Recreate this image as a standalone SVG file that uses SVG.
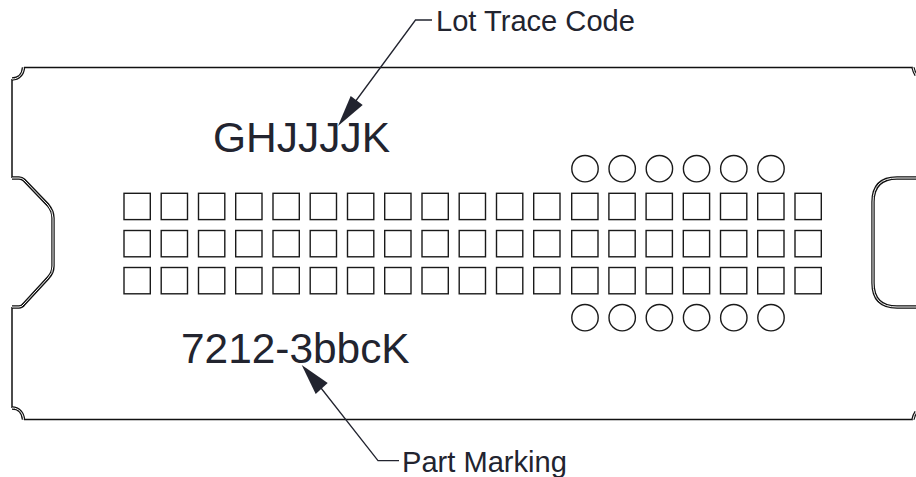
<svg xmlns="http://www.w3.org/2000/svg" width="916" height="477" viewBox="0 0 916 477">
<style>
.o{fill:none;stroke:#111;stroke-width:1.5}
.d{fill:none;stroke:#111;stroke-width:3.4}
.w{fill:none;stroke:#fff;stroke-width:1}
.s{fill:#fff;stroke:#1a1a1a;stroke-width:1.4}
.t{font-family:"Liberation Sans",Arial,sans-serif;fill:#22242f}
.l{fill:none;stroke:#22242f;stroke-width:1.3}
</style>
<defs>
<rect id="sq" width="26.3" height="26.3" class="s"/>
<circle id="ci" r="13.2" class="s"/>
<path id="edge" d="M12 79C19 79 23 74 23.500 67.500M12 178H19Q22 178 24 180L48 205Q53 211 53 218V266Q53 273 48 278L24 304Q22 307 19 307H12M12 408C19 408 23 413 23.500 419.500M916 75Q914 72 913 67.500M916 412Q914 415 913 419.500M916 178H897Q873 178 873 202V283Q873 307 897 307H916"/>
</defs>
<rect width="916" height="477" fill="#fff"/>
<g id="package">
<path class="o" d="M24 67.500H913M12 79V178M12 307V408M24 419.500H913"/>
<use href="#edge" class="d"/>
<use href="#edge" class="w"/>
</g>
<g id="pads">
<g id="row1">
<use href="#sq" x="124" y="193.300"/><use href="#sq" x="161.200" y="193.300"/><use href="#sq" x="198.500" y="193.300"/><use href="#sq" x="235.700" y="193.300"/><use href="#sq" x="273" y="193.300"/><use href="#sq" x="310.200" y="193.300"/><use href="#sq" x="347.500" y="193.300"/><use href="#sq" x="384.700" y="193.300"/><use href="#sq" x="422" y="193.300"/><use href="#sq" x="459.200" y="193.300"/><use href="#sq" x="496.500" y="193.300"/><use href="#sq" x="533.700" y="193.300"/><use href="#sq" x="571.700" y="193.300"/><use href="#sq" x="608.900" y="193.300"/><use href="#sq" x="646.100" y="193.300"/><use href="#sq" x="683.300" y="193.300"/><use href="#sq" x="720.500" y="193.300"/><use href="#sq" x="757.700" y="193.300"/><use href="#sq" x="795" y="193.300"/>
</g>
<g id="row2">
<use href="#sq" x="124" y="230.500"/><use href="#sq" x="161.200" y="230.500"/><use href="#sq" x="198.500" y="230.500"/><use href="#sq" x="235.700" y="230.500"/><use href="#sq" x="273" y="230.500"/><use href="#sq" x="310.200" y="230.500"/><use href="#sq" x="347.500" y="230.500"/><use href="#sq" x="384.700" y="230.500"/><use href="#sq" x="422" y="230.500"/><use href="#sq" x="459.200" y="230.500"/><use href="#sq" x="496.500" y="230.500"/><use href="#sq" x="533.700" y="230.500"/><use href="#sq" x="571.700" y="230.500"/><use href="#sq" x="608.900" y="230.500"/><use href="#sq" x="646.100" y="230.500"/><use href="#sq" x="683.300" y="230.500"/><use href="#sq" x="720.500" y="230.500"/><use href="#sq" x="757.700" y="230.500"/><use href="#sq" x="795" y="230.500"/>
</g>
<g id="row3">
<use href="#sq" x="124" y="267.500"/><use href="#sq" x="161.200" y="267.500"/><use href="#sq" x="198.500" y="267.500"/><use href="#sq" x="235.700" y="267.500"/><use href="#sq" x="273" y="267.500"/><use href="#sq" x="310.200" y="267.500"/><use href="#sq" x="347.500" y="267.500"/><use href="#sq" x="384.700" y="267.500"/><use href="#sq" x="422" y="267.500"/><use href="#sq" x="459.200" y="267.500"/><use href="#sq" x="496.500" y="267.500"/><use href="#sq" x="533.700" y="267.500"/><use href="#sq" x="571.700" y="267.500"/><use href="#sq" x="608.900" y="267.500"/><use href="#sq" x="646.100" y="267.500"/><use href="#sq" x="683.300" y="267.500"/><use href="#sq" x="720.500" y="267.500"/><use href="#sq" x="757.700" y="267.500"/><use href="#sq" x="795" y="267.500"/>
</g>
<g id="holes-top">
<use href="#ci" x="585" y="168.700"/><use href="#ci" x="622.200" y="168.700"/><use href="#ci" x="659.400" y="168.700"/><use href="#ci" x="696.600" y="168.700"/><use href="#ci" x="733.800" y="168.700"/><use href="#ci" x="771" y="168.700"/>
</g>
<g id="holes-bottom">
<use href="#ci" x="585" y="317.700"/><use href="#ci" x="622.200" y="317.700"/><use href="#ci" x="659.400" y="317.700"/><use href="#ci" x="696.600" y="317.700"/><use href="#ci" x="733.800" y="317.700"/><use href="#ci" x="771" y="317.700"/>
</g>
</g>
<g id="connectors">
<path class="l" d="M432 20H415.500L355 102"/>
<path fill="#22242f" d="M338 126L350.700 96L362.700 105Z"/>
<path class="l" d="M399 460.700H378L321 388"/>
<path fill="#22242f" d="M301.700 365L327.700 383L315.700 394Z"/>
</g>
<g id="label-lot-trace"><text class="t" x="436" y="31" font-size="29.100">Lot Trace Code</text></g>
<g id="label-part-marking"><text class="t" x="402" y="472" font-size="29.100">Part Marking</text></g>
<g id="marking-lot"><text class="t" x="213" y="152" font-size="42.500">GHJJJJK</text></g>
<g id="marking-part"><text class="t" x="181" y="363" font-size="42.400">7212-3bbcK</text></g>
</svg>
